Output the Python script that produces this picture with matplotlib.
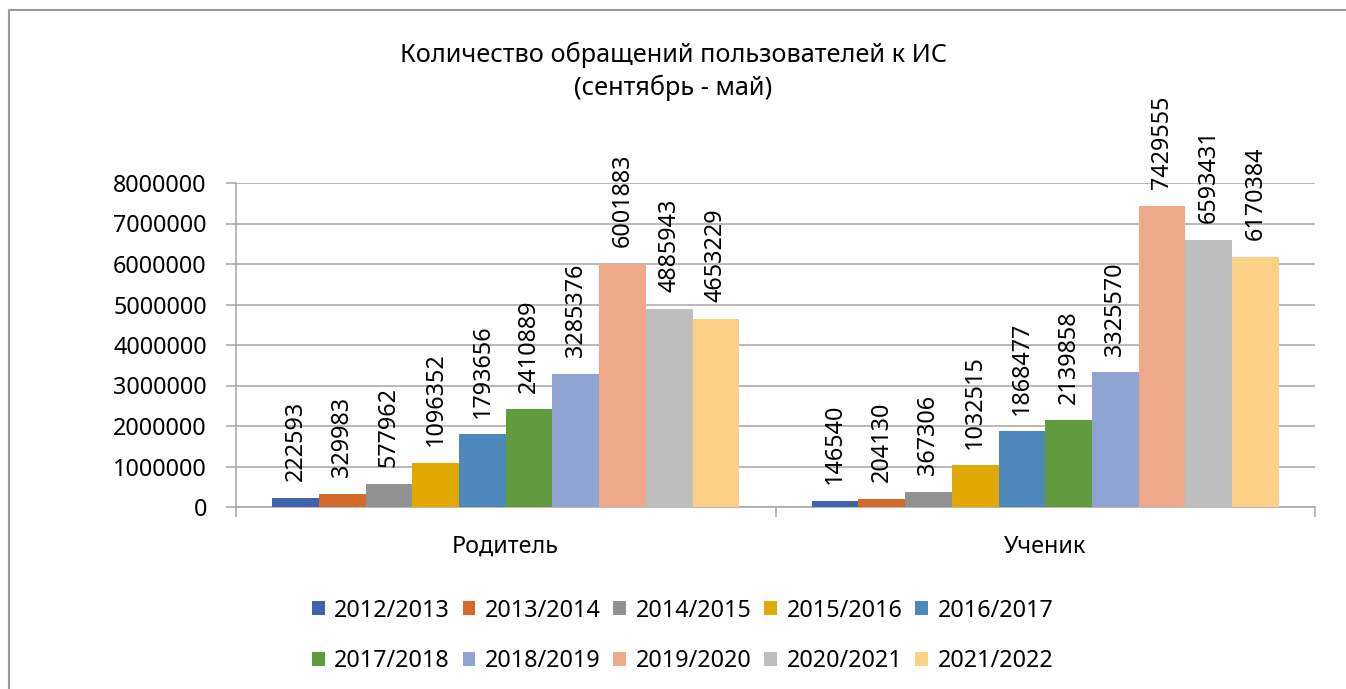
import numpy as np
import matplotlib
matplotlib.use("Agg")
import matplotlib.pyplot as plt
from matplotlib.lines import Line2D
from matplotlib.patches import Patch

plt.rcParams['font.family'] = ['Noto Sans', 'DejaVu Sans']

categories = ['Родитель', 'Ученик']
years = ['2012/2013', '2013/2014', '2014/2015', '2015/2016', '2016/2017',
         '2017/2018', '2018/2019', '2019/2020', '2020/2021', '2021/2022']
roditel = [222593, 329983, 577962, 1096352, 1793656, 2410889, 3285376, 6001883, 4885943, 4653229]
uchenik = [146540, 204130, 367306, 1032515, 1868477, 2139858, 3325570, 7429555, 6593431, 6170384]
colors = ['#3F63AD', '#D26B2A', '#919191', '#E0A800', '#4F89BC',
          '#629A3E', '#8FA4D3', '#EFA98A', '#BEBEBE', '#FDD088']

fs = 16.8

fig = plt.figure(figsize=(13.46, 6.89), dpi=100)
ax = fig.add_axes([236/1346, 1 - 507/689, (1315-236)/1346, (507-183)/689])

n = len(years)
w = 0.866 / n
x = np.arange(len(categories))
for i in range(n):
    vals = [roditel[i], uchenik[i]]
    pos = x - 0.433 + w * (i + 0.5)
    ax.bar(pos, vals, width=w, color=colors[i], zorder=3)
    for p, v in zip(pos, vals):
        ax.annotate(str(v), (p, v), xytext=(0, 12), textcoords='offset points',
                    rotation=90, ha='center', va='bottom', fontsize=fs, color='#000000')

ax.set_xlim(-0.5, 1.5)
ax.set_ylim(0, 8000000)
ax.set_yticks(np.arange(0, 8000001, 1000000))
ax.set_yticklabels([str(v) for v in range(0, 8000001, 1000000)])
ax.yaxis.grid(True, color='#A6A6A6', linewidth=1.1, zorder=0)
ax.set_xticks(x)
ax.set_xticklabels(categories)
ax.set_xticks([-0.5, 0.5, 1.5], minor=True)
ax.tick_params(axis='x', which='major', length=0, pad=20, labelsize=fs)
ax.tick_params(axis='x', which='minor', length=7, width=1.1, color='#A6A6A6', direction='out')
ax.tick_params(axis='y', length=7, width=1.1, color='#A6A6A6', pad=14, labelsize=fs)

for s in ['top', 'right']:
    ax.spines[s].set_visible(False)
for s in ['left', 'bottom']:
    ax.spines[s].set_color('#A6A6A6')
    ax.spines[s].set_linewidth(1.1)

fig.text(0.5, 1 - 55/689, 'Количество обращений пользователей к ИС', ha='center', va='center', fontsize=18.2)
fig.text(0.5, 1 - 88/689, '(сентябрь - май)', ha='center', va='center', fontsize=18.2)

# legend fills by column, so reorder to read row by row
order = [0, 5, 1, 6, 2, 7, 3, 8, 4, 9]
handles = [Patch(facecolor=colors[k]) for k in order]
labels = [years[k] for k in order]
fig.legend(handles, labels, loc='center', bbox_to_anchor=(0.507, 1 - 636/689), ncol=5,
           frameon=False, fontsize=fs, handlelength=0.55, handleheight=0.55,
           handletextpad=0.4, columnspacing=0.55, labelspacing=1.15)

# chart border
fig.add_artist(Line2D([9/1346, 9/1346, 1.0], [0, 1 - 10/689, 1 - 10/689],
                      transform=fig.transFigure, color='#9A9A9A', linewidth=1.5))

fig.savefig('out.png', dpi=100)
